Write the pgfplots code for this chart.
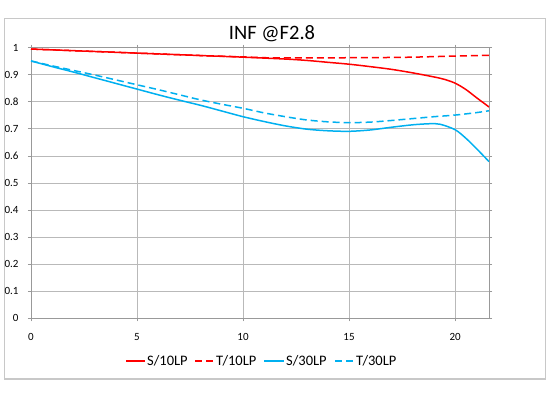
\documentclass[border=0pt]{standalone}
\usepackage{pgfplots}
\pgfplotsset{compat=1.18}
\usepackage{fontspec}
\setmainfont{Carlito}
\definecolor{xlred}{RGB}{255,0,0}
\definecolor{xlblue}{RGB}{0,176,240}
\definecolor{gridc}{RGB}{185,185,185}
\definecolor{framec}{RGB}{200,200,200}
\tikzset{
  s10/.style={draw=xlred, line width=1.5pt},
  t10/.style={draw=xlred, line width=1.5pt, dash pattern=on 7pt off 4pt},
  s30/.style={draw=xlblue, line width=1.5pt},
  t30/.style={draw=xlblue, line width=1.5pt, dash pattern=on 7pt off 4pt},
  legtext/.style={anchor=west, inner sep=0pt, font=\fontsize{14.5}{17}\selectfont},
}
\begin{document}
\begin{tikzpicture}
\path[use as bounding box] (-31pt,-79.7pt) rectangle (520pt,318.3pt);
\draw[framec, line width=1.2pt] (-26.7pt,-60.7pt) rectangle (514.7pt,299.6pt);
\node[font=\fontsize{20.5}{24}\selectfont, anchor=center] at (241pt,285pt) {INF @F2.8};
\begin{axis}[
  at={(0pt,0pt)}, anchor=south west,
  scale only axis, width=458pt, height=270.6pt,
  xmin=0, xmax=21.6, ymin=0, ymax=1,
  xtick={0,5,10,15,20},
  ytick={0,0.1,0.2,0.3,0.4,0.5,0.6,0.7,0.8,0.9,1},
  yticklabels={0,0.1,0.2,0.3,0.4,0.5,0.6,0.7,0.8,0.9,1},
  grid=major,
  grid style={gridc, line width=0.8pt},
  axis line style={gray!80, line width=0.8pt},
  tick style={gray!80, line width=0.8pt},
  tick align=outside, major tick length=3pt,
  /pgf/number format/assume math mode=true,
  tick label style={font=\fontsize{11}{13}\selectfont},
  xticklabel style={yshift=-9pt},
  yticklabel style={xshift=-6pt},
]
\addplot[s10, smooth] coordinates {(0,0.995)(2,0.989)(4,0.983)(6,0.977)(8,0.971)(10,0.965)(12,0.958)(13,0.953)(14,0.946)(15,0.939)(16,0.930)(17,0.920)(18,0.907)(19,0.892)(19.5,0.883)(20,0.869)(20.5,0.846)(21,0.816)(21.6,0.781)};
\addplot[t10, smooth] coordinates {(0,0.995)(2,0.989)(4,0.983)(6,0.977)(8,0.971)(10,0.966)(11,0.963)(12,0.962)(13,0.962)(14,0.962)(15,0.963)(16,0.963)(17,0.964)(18,0.965)(19,0.967)(20,0.969)(21,0.971)(21.6,0.972)};
\addplot[s30, smooth] coordinates {(0,0.951)(1,0.930)(2,0.910)(3,0.889)(4,0.868)(5,0.847)(6,0.826)(7,0.806)(8,0.787)(9,0.766)(10,0.745)(11,0.727)(12,0.711)(13,0.699)(14,0.693)(15,0.691)(16,0.696)(17,0.706)(18,0.715)(18.8,0.719)(19.3,0.717)(20,0.697)(20.5,0.666)(21,0.628)(21.6,0.579)};
\addplot[t30, smooth] coordinates {(0,0.951)(1,0.933)(2,0.916)(3,0.899)(4,0.881)(5,0.863)(6,0.845)(7,0.826)(8,0.807)(9,0.791)(10,0.776)(11,0.759)(12,0.745)(13,0.733)(14,0.726)(15,0.723)(16,0.725)(17,0.731)(18,0.738)(19,0.745)(20,0.751)(21,0.760)(21.6,0.767)};
\end{axis}
% legend
\draw[s10] (95pt,-42.7pt) -- (114pt,-42.7pt);
\node[legtext] at (116pt,-42.7pt) {S/10LP};
\draw[t10] (164pt,-42.7pt) -- (183pt,-42.7pt);
\node[legtext] at (185pt,-42.7pt) {T/10LP};
\draw[s30] (233pt,-42.7pt) -- (253pt,-42.7pt);
\node[legtext] at (255pt,-42.7pt) {S/30LP};
\draw[t30] (304pt,-42.7pt) -- (322pt,-42.7pt);
\node[legtext] at (325pt,-42.7pt) {T/30LP};
\end{tikzpicture}
\end{document}
